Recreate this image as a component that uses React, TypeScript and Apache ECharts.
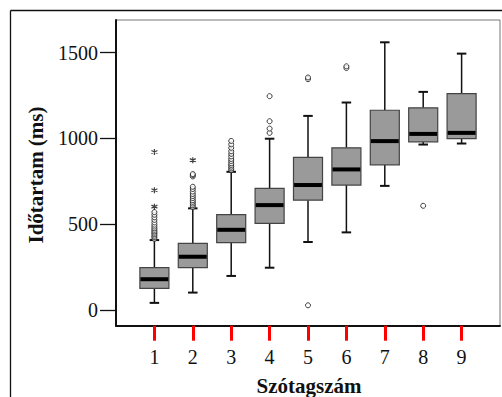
import React, { useEffect, useRef } from "react";
import * as echarts from "echarts";

// Syllable count categories (x positions)
const categories = [1, 2, 3, 4, 5, 6, 7, 8, 9];
// Box statistics per category: [min whisker, Q1, median, Q3, max whisker]
const boxStats = [
  [41, 126, 179, 246, 407],
  [101, 246, 310, 388, 592],
  [198, 392, 467, 555, 805],
  [246, 505, 611, 708, 998],
  [396, 640, 728, 889, 1131],
  [452, 728, 819, 945, 1209],
  [723, 846, 984, 1164, 1560],
  [964, 980, 1026, 1178, 1271],
  [970, 999, 1032, 1261, 1494],
];
// Outliers (circles): [category, value]
const outliers = [
  [1, 415], [1, 425], [1, 433], [1, 442], [1, 450], [1, 458], [1, 467], [1, 476],
  [1, 486], [1, 497], [1, 510], [1, 525], [1, 540], [1, 555], [1, 570],
  [2, 600], [2, 610], [2, 620], [2, 630], [2, 640], [2, 652], [2, 664], [2, 676],
  [2, 690], [2, 705], [2, 718], [2, 778], [2, 786], [2, 792],
  [3, 815], [3, 825], [3, 835], [3, 845], [3, 855], [3, 868], [3, 880], [3, 895],
  [3, 910], [3, 925], [3, 945], [3, 965], [3, 985],
  [4, 1032], [4, 1057], [4, 1100], [4, 1246],
  [5, 1345], [5, 1355], [5, 27],
  [6, 1410], [6, 1420],
  [8, 607],
];
// Extreme outliers (stars): [category, value]
const extremes = [
  [1, 602], [1, 698], [1, 921],
  [2, 873],
];
const yTicks = [0, 500, 1000, 1500];
const Y_MIN = -92;
const Y_MAX = 1690;
const yTitle = "Időtartam (ms)";
const xTitle = "Szótagszám";

const FONT = "'Liberation Serif', 'DejaVu Serif', serif";

export default function App() {
  const ref = useRef<HTMLDivElement>(null);
  useEffect(() => {
    if (!ref.current) return;
    const chart = echarts.init(ref.current, null, { renderer: "svg" });
    const boxData = categories.map((c, i) => [c, ...boxStats[i]]);
    chart.setOption({
      animation: false,
      grid: {
        left: 116,
        top: 20,
        right: 2,
        bottom: 71.3,
        show: true,
        borderColor: "#777",
      },
      xAxis: {
        type: "value",
        min: 0,
        max: 10,
        splitLine: { show: false },
        axisLine: { onZero: false, lineStyle: { color: "#111", width: 2 } },
        axisTick: {
          show: true,
          customValues: categories,
          length: 15,
          lineStyle: { color: "red", width: 3 },
        },
        axisLabel: {
          customValues: categories,
          formatter: (v: number) => String(v),
          fontFamily: FONT,
          fontSize: 20,
          color: "#111",
          margin: 21,
        },
      },
      yAxis: {
        type: "value",
        min: Y_MIN,
        max: Y_MAX,
        splitLine: { show: false },
        axisLine: { onZero: false, lineStyle: { color: "#111", width: 2 } },
        axisTick: {
          customValues: yTicks,
          length: 16,
          lineStyle: { color: "#111", width: 1.3 },
        },
        axisLabel: {
          customValues: yTicks,
          formatter: (v: number) => String(v),
          fontFamily: FONT,
          fontSize: 20,
          color: "#111",
          margin: 18,
        },
      },
      graphic: [
        { type: "line", shape: { x1: 10.5, y1: 10.5, x2: 502, y2: 10.5 }, style: { stroke: "#111", lineWidth: 1.3 } },
        { type: "line", shape: { x1: 10.5, y1: 10.5, x2: 10.5, y2: 397 }, style: { stroke: "#111", lineWidth: 1.3 } },
        {
          type: "text",
          x: 36,
          y: 175,
          rotation: Math.PI / 2,
          style: {
            text: yTitle,
            fontFamily: FONT,
            fontSize: 21,
            fontWeight: "bold",
            fill: "#111",
            align: "center",
            verticalAlign: "middle",
          },
        },
        {
          type: "text",
          x: 309,
          y: 386,
          style: {
            text: xTitle,
            fontFamily: FONT,
            fontSize: 21,
            fontWeight: "bold",
            fill: "#111",
            align: "center",
            verticalAlign: "middle",
          },
        },
      ],
      series: [
        {
          type: "custom",
          data: boxData,
          renderItem: (params: any, api: any) => {
            const x = api.value(0);
            const pMin = api.coord([x, api.value(1)]);
            const pQ1 = api.coord([x, api.value(2)]);
            const pMed = api.coord([x, api.value(3)]);
            const pQ3 = api.coord([x, api.value(4)]);
            const pMax = api.coord([x, api.value(5)]);
            const bw = api.size([0.756, 0])[0];
            const cw = 9.5;
            const cx = pMin[0];
            const stroke = { stroke: "#111", lineWidth: 1.5 };
            return {
              type: "group",
              children: [
                { type: "line", shape: { x1: cx, y1: pMin[1], x2: cx, y2: pQ1[1] }, style: stroke },
                { type: "line", shape: { x1: cx, y1: pQ3[1], x2: cx, y2: pMax[1] }, style: stroke },
                { type: "line", shape: { x1: cx - cw / 2, y1: pMin[1], x2: cx + cw / 2, y2: pMin[1] }, style: { stroke: "#111", lineWidth: 2 } },
                { type: "line", shape: { x1: cx - cw / 2, y1: pMax[1], x2: cx + cw / 2, y2: pMax[1] }, style: { stroke: "#111", lineWidth: 2 } },
                {
                  type: "rect",
                  shape: { x: cx - bw / 2, y: pQ3[1], width: bw, height: pQ1[1] - pQ3[1] },
                  style: { fill: "#9a9a9a", stroke: "#444", lineWidth: 1.2 },
                },
                {
                  type: "line",
                  shape: { x1: cx - bw / 2 + 0.6, y1: pMed[1], x2: cx + bw / 2 - 0.6, y2: pMed[1] },
                  style: { stroke: "#000", lineWidth: 4 },
                },
              ],
            };
          },
        },
        {
          type: "scatter",
          data: outliers,
          symbol: "circle",
          symbolSize: 5,
          itemStyle: { color: "#fff", borderColor: "#111", borderWidth: 1 },
        },
        {
          type: "scatter",
          data: extremes,
          symbol: "path://M0,-5L0,5M-4.33,-2.5L4.33,2.5M-4.33,2.5L4.33,-2.5",
          symbolSize: 6,
          itemStyle: { color: "none", borderColor: "#111", borderWidth: 1.2 },
        },
      ],
    });
    return () => chart.dispose();
  }, []);
  return (
    <div
      ref={ref}
      style={{ position: "fixed", left: 0, top: 0, width: 502, height: 397, background: "#fff" }}
    />
  );
}
